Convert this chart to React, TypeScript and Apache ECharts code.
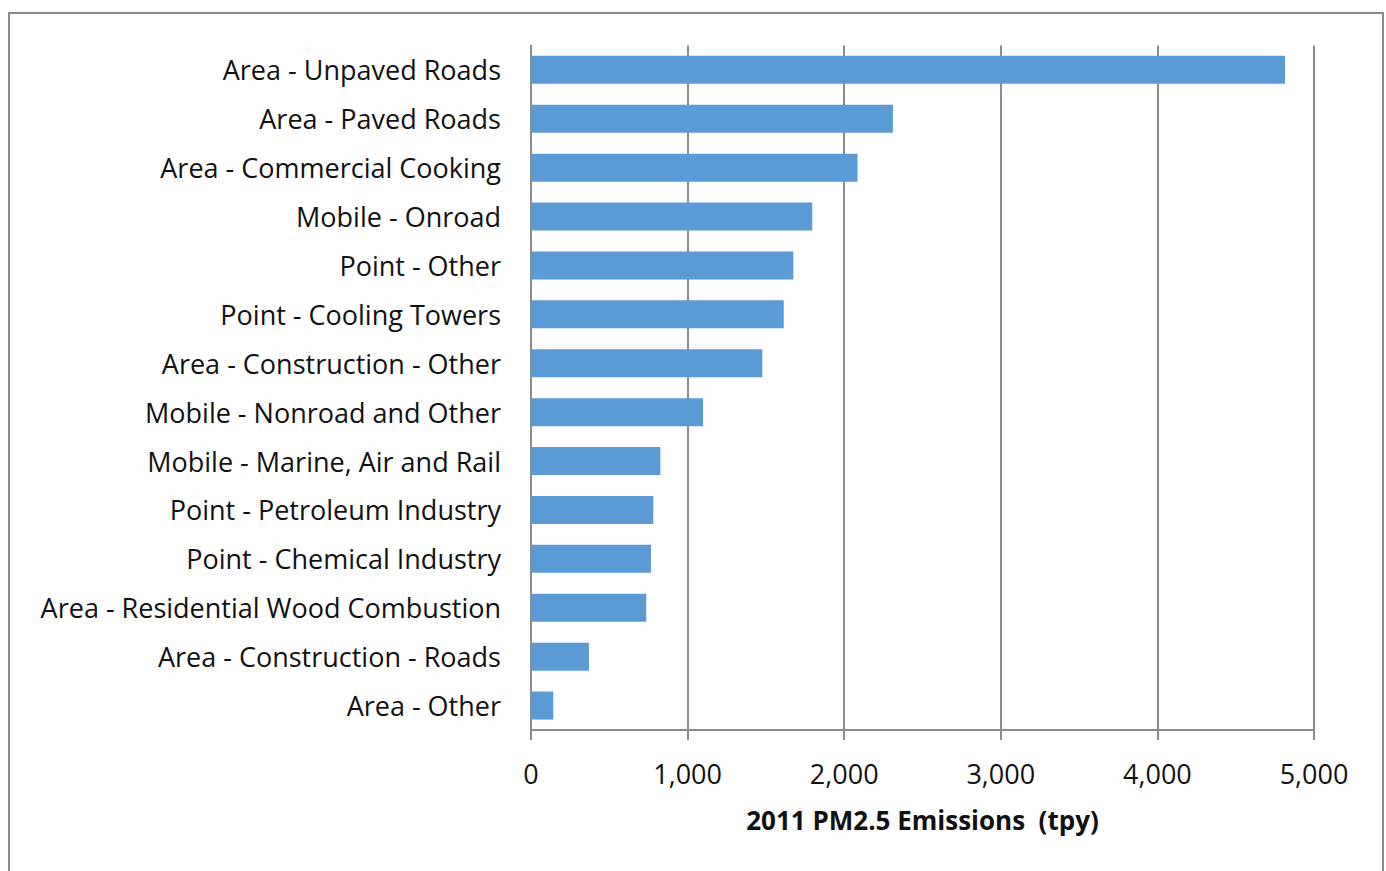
import React, { useEffect, useRef } from "react";
import * as echarts from "echarts";

const categories = [
  "Area - Unpaved Roads",
  "Area - Paved Roads",
  "Area - Commercial Cooking",
  "Mobile - Onroad",
  "Point - Other",
  "Point - Cooling Towers",
  "Area - Construction - Other",
  "Mobile - Nonroad and Other",
  "Mobile - Marine, Air and Rail",
  "Point - Petroleum Industry",
  "Point - Chemical Industry",
  "Area - Residential Wood Combustion",
  "Area - Construction - Roads",
  "Area - Other",
];

const emissions = [4815, 2311, 2085, 1796, 1675, 1614, 1477, 1098, 826, 781, 766, 736, 370, 142];

const axisName = "2011 PM2.5 Emissions  (tpy)";

export default function App() {
  const ref = useRef<HTMLDivElement>(null);
  useEffect(() => {
    if (!ref.current) return;
    const chart = echarts.init(ref.current, undefined, { renderer: "svg" });
    const grey = "#8c8c8c";
    chart.setOption({
      animation: false,
      backgroundColor: "#ffffff",
      graphic: [
        {
          type: "rect",
          shape: { x: 9, y: 13, width: 1374, height: 900 },
          style: { fill: "none", stroke: grey, lineWidth: 2 },
          silent: true,
        },
      ],
      grid: { left: 531, right: 72, top: 45.4, bottom: 141, containLabel: false },
      xAxis: {
        type: "value",
        min: 0,
        max: 5000,
        interval: 1000,
        name: axisName,
        nameLocation: "middle",
        nameGap: 77,
        nameTextStyle: { fontFamily: "Open Sans", fontSize: 26, fontWeight: "bold", color: "#111" },
        axisLine: { show: true, lineStyle: { color: grey, width: 2 } },
        axisTick: { show: true, length: 10, lineStyle: { color: grey, width: 2 } },
        axisLabel: {
          fontFamily: "Open Sans",
          fontSize: 27,
          color: "#111",
          margin: 30,
          formatter: (v: number) => v.toLocaleString("en-US"),
        },
        splitLine: { show: true, lineStyle: { color: grey, width: 2 } },
      },
      yAxis: {
        type: "category",
        data: categories,
        inverse: true,
        axisLine: { show: true, lineStyle: { color: grey, width: 2 } },
        axisTick: { show: false },
        axisLabel: { fontFamily: "Open Sans", fontSize: 27, color: "#111", margin: 30 },
      },
      series: [
        {
          type: "bar",
          data: emissions,
          barCategoryGap: "42.7%",
          itemStyle: { color: "#5b9bd5" },
        },
      ],
    });
    return () => chart.dispose();
  }, []);
  return (
    <div
      ref={ref}
      style={{ position: "fixed", left: 0, top: 0, width: 1386, height: 871 }}
    />
  );
}
